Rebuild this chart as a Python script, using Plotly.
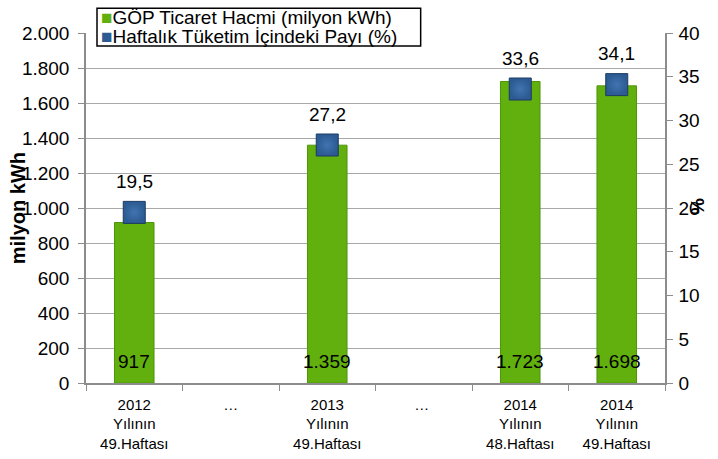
import plotly.graph_objects as go

# ---- data ----
categories = [
    "2012<br>Yılının<br>49.Haftası",
    "…",
    "2013<br>Yılının<br>49.Haftası",
    "… ",
    "2014<br>Yılının<br>48.Haftası",
    "2014<br>Yılının<br>49.Haftası",
]
volume = [917, None, 1359, None, 1723, 1698]          # GÖP Ticaret Hacmi (milyon kWh)
share = [19.5, None, 27.2, None, 33.6, 34.1]          # Haftalık Tüketim İçindeki Payı (%)
left_ticks = [0, 200, 400, 600, 800, 1000, 1200, 1400, 1600, 1800, 2000]
right_ticks = [0, 5, 10, 15, 20, 25, 30, 35, 40]
series_names = ["GÖP Ticaret Hacmi (milyon kWh)", "Haftalık Tüketim İçindeki Payı (%)"]


def tr_int(v):
    return "" if v is None else f"{v:,}".replace(",", ".")


def tr_dec(v):
    return "" if v is None else f"{v:.1f}".replace(".", ",")


volume_labels = [tr_int(v) for v in volume]
share_labels = [tr_dec(v) for v in share]
left_tick_text = [tr_int(v) for v in left_ticks]

FONT = "Liberation Sans, Arial, sans-serif"
AXIS_GREY = "#8C8C8C"
GREEN = "#62B00E"
BLUE = "#2C5A92"

fig = go.Figure()

fig.add_trace(go.Bar(
    name=series_names[0],
    x=categories,
    y=volume,
    width=0.41,
    marker=dict(color=GREEN, line=dict(color="#4E9609", width=1)),
    showlegend=False,
))

fig.add_trace(go.Scatter(
    name=series_names[1],
    x=categories,
    y=share,
    yaxis="y2",
    mode="markers",
    marker=dict(symbol="square", size=22, color=BLUE,
                gradient=dict(type="radial", color="#4274B0"),
                line=dict(color="#1C3B62", width=1)),
    showlegend=False,
    cliponaxis=False,
))

annotations = []
# bar value labels near the base of each bar
for c, v, t in zip(categories, volume, volume_labels):
    if v is None:
        continue
    annotations.append(dict(
        x=c, y=0, xref="x", yref="y", text=t, showarrow=False,
        xanchor="center", yanchor="bottom", yshift=9,
        font=dict(size=19, family=FONT, color="black")))
# share labels above markers
for c, v, t in zip(categories, share, share_labels):
    if v is None:
        continue
    annotations.append(dict(
        x=c, y=v, xref="x", yref="y2", text=t, showarrow=False,
        xanchor="center", yanchor="middle", yshift=31,
        font=dict(size=19, family=FONT, color="black")))

# axis titles
annotations += [
    dict(text="<b>milyon kWh</b>", xref="paper", yref="paper",
         x=-0.117, y=0.5, xanchor="center", yanchor="middle",
         textangle=-90, showarrow=False,
         font=dict(size=20, family=FONT, color="black")),
    dict(text="<b>%</b>", xref="paper", yref="paper",
         x=1.055, y=0.505, xanchor="center", yanchor="middle",
         textangle=-90, showarrow=False,
         font=dict(size=19, family=FONT, color="black")),
]

# legend (box + entries)
legend_font = dict(size=19, family=FONT, color="black")
annotations += [
    dict(text=f"<span style='color:{GREEN}'>■</span>{series_names[0]}",
         xref="paper", yref="paper", x=0.022, y=1.045,
         xanchor="left", yanchor="middle", showarrow=False, font=legend_font),
    dict(text=f"<span style='color:{BLUE}'>■</span>{series_names[1]}",
         xref="paper", yref="paper", x=0.022, y=0.99,
         xanchor="left", yanchor="middle", showarrow=False, font=legend_font),
]
shapes = [dict(type="rect", xref="paper", yref="paper",
               x0=0.019, x1=0.578, y0=0.963, y1=1.071,
               line=dict(color="black", width=1.5), fillcolor="white",
               layer="above")]

fig.update_layout(
    width=718,
    height=459,
    margin=dict(l=86, r=53, t=33, b=76, autoexpand=False),
    paper_bgcolor="white",
    plot_bgcolor="white",
    font=dict(family=FONT, color="black"),
    showlegend=False,
    bargap=0.2,
    annotations=annotations,
    shapes=shapes,
    xaxis=dict(
        type="category",
        tickson="boundaries",
        ticks="outside", ticklen=6, tickcolor=AXIS_GREY, tickwidth=1,
        showline=True, linecolor=AXIS_GREY, linewidth=1.5,
        showgrid=False, automargin=False,
        ticklabelstandoff=7,
        tickfont=dict(size=15, family=FONT, color="black"),
    ),
    yaxis=dict(
        range=[0, 2000],
        tickvals=left_ticks, ticktext=left_tick_text,
        showgrid=True, gridcolor="#A8A8A8", gridwidth=1,
        zeroline=False, automargin=False,
        showline=True, linecolor=AXIS_GREY, linewidth=1.5,
        ticks="outside", ticklen=6, tickcolor=AXIS_GREY,
        ticklabelstandoff=5,
        tickfont=dict(size=19, family=FONT, color="black"),
    ),
    yaxis2=dict(
        range=[0, 40], overlaying="y", side="right",
        tickvals=right_ticks,
        showgrid=False, zeroline=False, automargin=False,
        showline=True, linecolor=AXIS_GREY, linewidth=1.5,
        ticks="outside", ticklen=6, tickcolor=AXIS_GREY,
        ticklabelstandoff=2,
        tickfont=dict(size=19, family=FONT, color="black"),
    ),
)

fig.write_html(
    "out.html",
    config={"displayModeBar": False},
    post_script="document.body.style.margin='0px';document.body.style.padding='0px';",
)
